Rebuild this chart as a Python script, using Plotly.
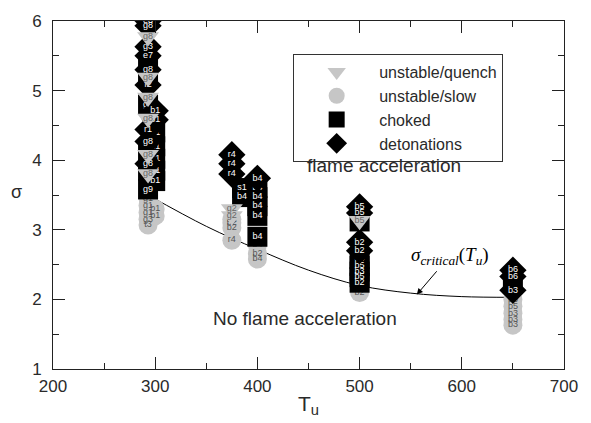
import plotly.graph_objects as go

# ---------------- data ----------------
# detonations (black diamonds)
det_T = [293, 293, 293, 293, 293, 293, 293, 293, 293, 300, 300, 375, 375, 375, 400, 500, 500, 500, 500, 650, 650, 650]
det_s = [6.0, 5.93, 5.63, 5.5, 5.3, 5.08, 4.44, 4.27, 3.95, 4.71, 4.58, 4.08, 3.95, 3.8, 3.74, 3.33, 3.24, 2.82, 2.7, 2.42, 2.33, 2.13]
det_lab = ["e3", "g8", "g3", "e7", "g8", "f2", "r1", "g8", "g8", "b1", "b1", "r4", "r4", "r4", "b4", "b5", "b5", "b2", "b2", "b6", "b6", "b3"]

# choked (black squares)
cho_T = [293, 293, 293, 293, 293, 293, 300, 300, 300, 300, 300, 385, 385, 400, 400, 400, 400, 400, 500, 500, 500, 500, 500, 500, 650]
cho_s = [5.4, 5.2, 4.8, 4.1, 3.85, 3.58, 4.4, 4.2, 4.02, 3.85, 3.7, 3.6, 3.47, 3.6, 3.47, 3.34, 3.2, 2.9, 3.12, 2.58, 2.48, 2.4, 2.32, 2.24, 2.22]
cho_lab = ["g8", "g8", "g8", "g8", "g8", "g9", "b1", "b1", "b1", "b1", "b1", "s1", "b4", "b4", "b4", "b4", "b4", "b4", "b5", "b4", "b5", "b3", "b5", "b2", "b3"]

# unstable / quench (gray down-triangles)
que_T = [293, 293, 293, 293, 293, 293, 375, 375, 500]
que_s = [5.77, 5.19, 4.9, 4.6, 4.08, 3.8, 3.3, 3.2, 3.13]
que_lab = ["g8", "g8", "g8", "g8", "g8", "g8", "g2", "g2", "b5"]

# unstable / slow (gray circles)
slo_T = [293, 293, 293, 293, 293, 300, 300, 375, 375, 375, 375, 400, 400, 400, 500, 650, 650, 650, 650, 650]
slo_s = [3.45, 3.35, 3.25, 3.15, 3.07, 3.3, 3.2, 3.15, 3.1, 3.03, 2.85, 2.78, 2.66, 2.58, 2.1, 2.0, 1.9, 1.8, 1.71, 1.63]
slo_lab = ["g1", "g1", "g1", "g3", "t3", "b1", "b1", "b2", "b2", "b2", "r4", "b4", "b2", "b4", "b2", "b3", "b5", "b3", "b3", "b3"]

# sigma critical curve
crit_T = [293, 350, 400, 450, 500, 550, 600, 650]
crit_s = [3.5, 3.05, 2.72, 2.42, 2.2, 2.09, 2.04, 2.03]

x_ticks = [200, 300, 400, 500, 600, 700]
y_ticks = [1, 2, 3, 4, 5, 6]

FONT = "Arial, Liberation Sans, sans-serif"
GRAY = "#c6c6c6"
TXT = "#2a2a2a"

fig = go.Figure()

fig.add_trace(go.Scatter(x=crit_T, y=crit_s, mode="lines", line=dict(color="black", width=1, shape="spline"),
                         showlegend=False, hoverinfo="skip"))

fig.add_trace(go.Scatter(x=slo_T, y=slo_s, mode="markers+text", name="unstable/slow", legendrank=2,
                         text=slo_lab, textposition="middle center",
                         textfont=dict(color="#555555", size=9, family=FONT),
                         marker=dict(symbol="circle", size=19, color=GRAY, line=dict(width=0))))

fig.add_trace(go.Scatter(x=cho_T, y=cho_s, mode="markers+text", name="choked", legendrank=3,
                         text=cho_lab, textposition="middle center",
                         textfont=dict(color="white", size=9, family=FONT),
                         marker=dict(symbol="square", size=20, color="black", line=dict(width=0))))

fig.add_trace(go.Scatter(x=det_T, y=det_s, mode="markers+text", name="detonations", legendrank=4,
                         text=det_lab, textposition="middle center",
                         textfont=dict(color="white", size=9, family=FONT),
                         marker=dict(symbol="diamond", size=21, color="black", line=dict(width=0))))

fig.add_trace(go.Scatter(x=que_T, y=que_s, mode="markers+text", name="unstable/quench", legendrank=1,
                         text=que_lab, textposition="middle center",
                         textfont=dict(color="#666666", size=9, family=FONT),
                         marker=dict(symbol="triangle-down", size=19, color=GRAY, line=dict(width=0))))

fig.update_layout(
    width=591, height=423,
    margin=dict(l=53, r=27, t=13, b=45),
    paper_bgcolor="white", plot_bgcolor="white",
    font=dict(family=FONT, color=TXT, size=17),
    legend=dict(x=0.47, y=0.905, xanchor="left", yanchor="top",
                bordercolor="#333333", borderwidth=1, bgcolor="white",
                font=dict(size=16, family=FONT, color=TXT), itemwidth=75,
                tracegroupgap=0),
    annotations=[
        dict(x=447, y=3.93, xref="x", yref="y", text="flame acceleration", showarrow=False,
             xanchor="left", yanchor="middle", font=dict(size=19, family=FONT, color=TXT)),
        dict(x=355, y=1.73, xref="x", yref="y", text="No flame acceleration", showarrow=False,
             xanchor="left", yanchor="middle", font=dict(size=19, family=FONT, color=TXT)),
        dict(x=556, y=2.07, xref="x", yref="y", ax=588, ay=2.62, axref="x", ayref="y",
             text="<i>σ<sub>critical</sub></i>(<i>T<sub>u</sub></i>)", showarrow=True,
             arrowhead=2, arrowsize=1.2, arrowwidth=1, arrowcolor="black", standoff=0, startstandoff=2,
             font=dict(size=19, family="Liberation Serif, Times New Roman, serif", color="black")),
        dict(x=-0.072, y=3.55, xref="paper", yref="y", text="σ", showarrow=False,
             xanchor="center", yanchor="middle", font=dict(size=18, family=FONT, color=TXT)),
    ],
)

fig.update_xaxes(range=[200, 700], tickvals=x_ticks, ticks="inside", ticklen=12, tickwidth=1, tickcolor="#222",
                 showline=True, linecolor="#222", linewidth=1, mirror="ticks", showgrid=False, zeroline=False,
                 minor=dict(ticks="inside", ticklen=6, dtick=50, tick0=200, tickcolor="#222", showgrid=False),
                 tickfont=dict(size=17), ticklabelstandoff=2,
                 title=dict(text="T<sub>u</sub>", font=dict(size=21), standoff=0))
fig.update_yaxes(range=[1, 6], tickvals=y_ticks, ticks="inside", ticklen=12, tickwidth=1, tickcolor="#222",
                 showline=True, linecolor="#222", linewidth=1, mirror="ticks", showgrid=False, zeroline=False,
                 minor=dict(ticks="inside", ticklen=6, dtick=0.5, tick0=1, tickcolor="#222", showgrid=False),
                 tickfont=dict(size=17), ticklabelstandoff=7)

fig.write_html("out.html")
